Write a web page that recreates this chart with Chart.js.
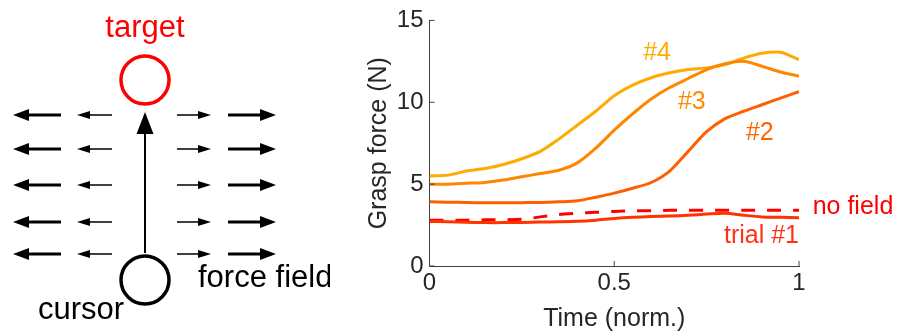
<!DOCTYPE html>
<html>
<head>
<meta charset="utf-8">
<script src="https://cdn.jsdelivr.net/npm/chart.js@4.4.1/dist/chart.umd.min.js"></script>
<style>
  body { margin: 0; background: #fff; }
  #wrap { position: relative; width: 897px; height: 336px; }
  canvas { position: absolute; top: 0; }
  #diagram { left: 0; }
  #force { left: 330px; }
</style>
</head>
<body>
<div id="wrap">
  <canvas id="diagram" width="330" height="336"></canvas>
  <canvas id="force" width="567" height="336"></canvas>
</div>
<script>
// grasp force traces, normalised time
const time = [0, 0.05, 0.1, 0.15, 0.2, 0.25, 0.3, 0.35, 0.4, 0.45, 0.5,
              0.55, 0.6, 0.65, 0.7, 0.75, 0.8, 0.85, 0.9, 0.95, 1];
const trial4 = [5.5, 5.55, 5.8, 5.95, 6.2, 6.55, 7.0, 7.75, 8.6, 9.45, 10.4,
                11.05, 11.5, 11.8, 12.0, 12.1, 12.3, 12.7, 13.0, 13.05, 12.6];
const trial3 = [5.0, 5.0, 5.05, 5.1, 5.25, 5.45, 5.65, 5.85, 6.3, 7.2, 8.3,
                9.3, 10.2, 10.9, 11.45, 12.0, 12.35, 12.5, 12.2, 11.85, 11.6];
const trial2 = [3.92, 3.9, 3.88, 3.86, 3.86, 3.87, 3.88, 3.92, 3.98, 4.2, 4.45,
                4.75, 5.1, 5.8, 7.0, 8.2, 9.0, 9.45, 9.85, 10.25, 10.65];
const trial1 = [2.72, 2.7, 2.67, 2.65, 2.65, 2.66, 2.68, 2.7, 2.73, 2.8, 2.9,
                2.97, 3.02, 3.05, 3.1, 3.17, 3.22, 3.1, 3.0, 2.97, 2.94];
const noField = [2.8, 2.8, 2.8, 2.82, 2.83, 2.85, 3.0, 3.15, 3.22, 3.28, 3.33,
                 3.37, 3.38, 3.4, 3.4, 3.4, 3.4, 3.4, 3.4, 3.4, 3.4];

const yTicks = [0, 5, 10, 15];
const xTicks = [0, 0.5, 1];

// text labels next to the curves (data coords)
const labelText = ['#4', '#3', '#2', 'no field', 'trial #1'];
const labelX = [0.616, 0.71, 0.894, 1.037, 1.0];
const labelY = [13.0, 10.0, 8.1, 3.6, 1.83];
const labelColor = ['#ffaa00', '#ff8c00', '#ff6400', '#ff0000', '#ff3214'];
const labelAlign = ['center', 'center', 'center', 'left', 'right'];

// diagram (units = pixels of the left panel)
const circleX = [145, 145];
const circleY = [80, 280];
const circleColor = ['#ff0000', '#000000'];
const arrowRows = [115, 149, 185, 222, 254];
const arrowFrom = [61, 112, 177, 228];
const arrowTo = [13, 77, 211, 276];
const arrowWeight = [3, 1.5, 1.5, 3];
const reachFrom = [145, 253];
const reachTo = [145, 112];
const diagramText = ['target', 'force field', 'cursor'];
const diagramTextX = [145, 198, 38];
const diagramTextY = [37, 287, 319];
const diagramTextColor = ['#ff0000', '#000000', '#000000'];
const diagramTextAlign = ['center', 'left', 'left'];

Chart.defaults.font.family = 'Arial, "Liberation Sans", sans-serif';
Chart.defaults.color = '#262626';

function drawArrow(ctx, x1, y1, x2, y2, w, len, half) {
    const ang = Math.atan2(y2 - y1, x2 - x1);
    const bx = x2 - Math.cos(ang) * len;
    const by = y2 - Math.sin(ang) * len;
    ctx.lineWidth = w;
    ctx.beginPath();
    ctx.moveTo(x1, y1);
    ctx.lineTo(bx, by);
    ctx.stroke();
    ctx.beginPath();
    ctx.moveTo(x2, y2);
    ctx.lineTo(bx - Math.sin(ang) * half, by + Math.cos(ang) * half);
    ctx.lineTo(bx + Math.sin(ang) * half, by - Math.cos(ang) * half);
    ctx.closePath();
    ctx.fill();
}

const diagramPlugin = {
    id: 'diagramPlugin',
    afterDatasetsDraw(chart) {
        const ctx = chart.ctx;
        const xs = chart.scales.x, ys = chart.scales.y;
        ctx.save();
        ctx.strokeStyle = '#000';
        ctx.fillStyle = '#000';
        arrowRows.forEach(r => {
            arrowFrom.forEach((f, i) => {
                const heavy = arrowWeight[i] > 2;
                drawArrow(ctx, xs.getPixelForValue(f), ys.getPixelForValue(r),
                    xs.getPixelForValue(arrowTo[i]), ys.getPixelForValue(r),
                    arrowWeight[i], heavy ? 16 : 13, heavy ? 6 : 4);
            });
        });
        drawArrow(ctx, xs.getPixelForValue(reachFrom[0]), ys.getPixelForValue(reachFrom[1]),
            xs.getPixelForValue(reachTo[0]), ys.getPixelForValue(reachTo[1]), 2, 22, 8.5);
        ctx.font = '31px Arial, "Liberation Sans", sans-serif';
        ctx.textBaseline = 'alphabetic';
        diagramText.forEach((t, i) => {
            ctx.fillStyle = diagramTextColor[i];
            ctx.textAlign = diagramTextAlign[i];
            ctx.fillText(t, xs.getPixelForValue(diagramTextX[i]), ys.getPixelForValue(diagramTextY[i]));
        });
        ctx.restore();
    }
};

new Chart(document.getElementById('diagram'), {
    type: 'scatter',
    data: {
        datasets: [{
            data: circleX.map((x, i) => ({ x: x, y: circleY[i] })),
            pointRadius: 24,
            pointBorderWidth: 3.5,
            pointBorderColor: circleColor,
            pointBackgroundColor: 'rgba(0,0,0,0)',
            clip: false
        }]
    },
    options: {
        responsive: false,
        animation: false,
        devicePixelRatio: 1,
        layout: { padding: 0, autoPadding: false },
        scales: {
            x: { type: 'linear', min: 0, max: 330, display: false },
            y: { type: 'linear', min: 0, max: 336, reverse: true, display: false }
        },
        plugins: { legend: { display: false }, tooltip: { enabled: false } }
    },
    plugins: [diagramPlugin]
});

const curveLabels = {
    id: 'curveLabels',
    afterDatasetsDraw(chart) {
        const ctx = chart.ctx;
        const xs = chart.scales.x, ys = chart.scales.y;
        ctx.save();
        ctx.font = '25px Arial, "Liberation Sans", sans-serif';
        ctx.textBaseline = 'middle';
        labelText.forEach((t, i) => {
            ctx.fillStyle = labelColor[i];
            ctx.textAlign = labelAlign[i];
            ctx.fillText(t, xs.getPixelForValue(labelX[i]), ys.getPixelForValue(labelY[i]));
        });
        ctx.restore();
    }
};

// matlab style ticks pointing into the plot
const inwardTicks = {
    id: 'inwardTicks',
    afterDraw(chart) {
        const ctx = chart.ctx;
        const a = chart.chartArea;
        const xs = chart.scales.x, ys = chart.scales.y;
        ctx.save();
        ctx.strokeStyle = '#404040';
        ctx.lineWidth = 1;
        ctx.beginPath();
        yTicks.forEach(v => {
            const p = ys.getPixelForValue(v);
            ctx.moveTo(a.left, p);
            ctx.lineTo(a.left + 5, p);
        });
        xTicks.forEach(v => {
            const p = xs.getPixelForValue(v);
            ctx.moveTo(p, a.bottom);
            ctx.lineTo(p, a.bottom - 5);
        });
        ctx.stroke();
        ctx.restore();
    }
};

function trace(data, color, dash) {
    return {
        data: data,
        borderColor: color,
        borderWidth: 3,
        borderDash: dash || [],
        pointRadius: 0,
        tension: 0.25,
        fill: false
    };
}

new Chart(document.getElementById('force'), {
    type: 'line',
    data: {
        labels: time,
        datasets: [
            trace(trial1, '#ff3200'),
            trace(noField, '#ff0000', [14, 12]),
            trace(trial2, '#ff5f00'),
            trace(trial3, '#ff8700'),
            trace(trial4, '#ffaa00')
        ]
    },
    options: {
        responsive: false,
        animation: false,
        devicePixelRatio: 1,
        layout: { padding: { top: 19.5, right: 98, bottom: 0, left: 0 }, autoPadding: false },
        scales: {
            x: {
                type: 'linear',
                min: 0,
                max: 1,
                afterFit: s => { s.height = 70; },
                afterBuildTicks: s => { s.ticks = xTicks.map(v => ({ value: v })); },
                grid: { display: false, drawTicks: false },
                border: { display: true, color: '#404040', width: 1 },
                ticks: { font: { size: 24 }, padding: 3, maxRotation: 0, color: '#262626',
                         callback: v => String(v) },
                title: { display: true, text: 'Time (norm.)', font: { size: 25 }, padding: { top: 0, bottom: 2 }, color: '#262626' }
            },
            y: {
                min: 0,
                max: 15,
                afterFit: s => { s.width = 99.5; },
                afterBuildTicks: s => { s.ticks = yTicks.map(v => ({ value: v })); },
                grid: { display: false, drawTicks: false },
                border: { display: true, color: '#404040', width: 1 },
                ticks: { font: { size: 24 }, padding: 6, color: '#262626', callback: v => String(v) },
                title: { display: true, text: 'Grasp force (N)', font: { size: 25 }, padding: { top: 34, bottom: 0 }, color: '#262626' }
            }
        },
        plugins: { legend: { display: false }, tooltip: { enabled: false } }
    },
    plugins: [curveLabels, inwardTicks]
});
</script>
</body>
</html>
